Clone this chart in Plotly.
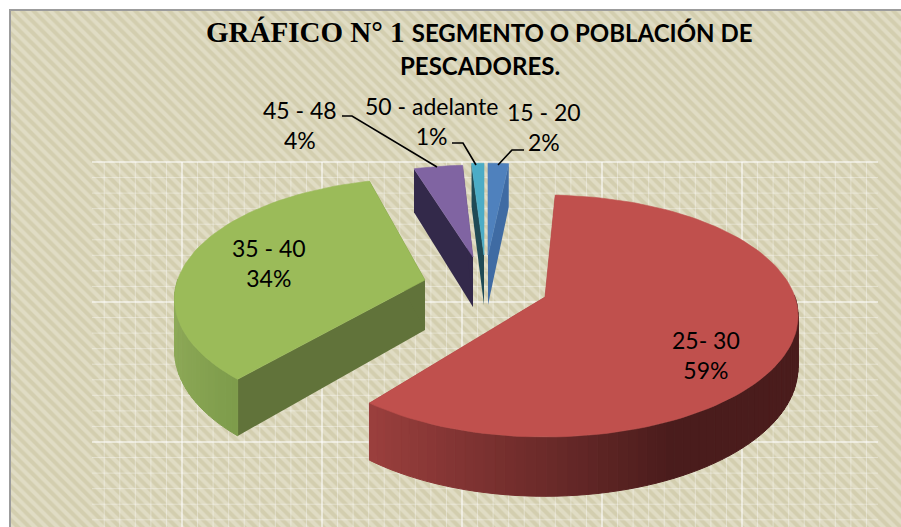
import math
import plotly.graph_objects as go

# --- data ---
categories = ["15 - 20", "25- 30", "35 - 40", "45 - 48", "50 - adelante"]
values = [2, 59, 34, 4, 1]
percent_labels = ["2%", "59%", "34%", "4%", "1%"]
title_line1_a = "GRÁFICO N° 1"
title_line1_b = "SEGMENTO O POBLACIÓN DE"
title_line2 = "PESCADORES."

# --- styles / layout of the 3-D view (pixel space) ---
W, H = 901, 527
top_colors = ["#4F81BD", "#C0504D", "#9BBB59", "#8064A2", "#4BACC6"]
wall_colors = ["#3F6BA3", "#8E3A38", "#61733A", "#33294A", "#1F4A55"]
curve_light = [(63, 107, 163), (155, 63, 61), (142, 170, 88), (80, 60, 110), (40, 100, 115)]
curve_dark = [(63, 107, 163), (74, 28, 28), (125, 155, 74), (50, 40, 70), (30, 74, 85)]
centers = [(488, 255), (545, 297), (425, 280), (473, 257), (484, 255)]
scales = [0.9, 1.0, 1.0, 0.9, 0.9]
scales_x = [0.9, 0.98, 0.97, 0.9, 0.9]
# small view corrections of each slice's edges (perspective of the 3-D view), degrees
edge_shift_start = [0, -4.5, 2.4, 0.8, 0]
edge_shift_end = [-1.2, -1.6, 3.0, 0.6, 0]
RX, RY, PERSP, DEPTH = 255, 118, 0.157, 50
draw_order = [3, 4, 0, 2, 1]


def project(cx, cy, u, v, z, sx, sy):
    s = 1 / (1 - PERSP * v)
    return cx + RX * u * s * sx, cy + RY * v * s * sy + z * DEPTH * s


def rim(a0, a1):
    n = max(2, int((a1 - a0) / 2) + 1)
    return [a0 + (a1 - a0) * i / (n - 1) for i in range(n)]


def poly(xs, ys, color, width=1):
    return go.Scatter(x=xs + xs[:1], y=ys + ys[:1], mode="lines", fill="toself",
                      fillcolor=color, line=dict(color=color, width=width),
                      hoverinfo="skip", showlegend=False)


fig = go.Figure()

# background panel
fig.add_trace(go.Bar(
    x=[(10 + W + 20) / 2], width=[W + 10], y=[H + 10], base=[10],
    marker=dict(color="#DCD8BD", line=dict(color="#9C9C9C", width=2),
                pattern=dict(shape="\\", size=8, solidity=0.5,
                             fgcolor="#C6C09A", bgcolor="#E0DCC4")),
    hoverinfo="skip", showlegend=False))

# white lattice
MAJ_X, MAJ_Y, STEP = 182, 162, 140
gx0, gx1, gy0, gy1 = 92, 878, 162, 527
for major, col, wid in ((False, "rgba(255,255,255,0.38)", 1), (True, "rgba(255,255,255,0.85)", 1)):
    xs, ys = [], []
    n = 1 if major else 9
    d = STEP / n
    k = -1 * n
    while MAJ_X + k * d <= gx1:
        px = MAJ_X + k * d
        if px >= gx0:
            xs += [px, px, None]
            ys += [gy0, gy1, None]
        k += 1
    k = 0
    while MAJ_Y + k * d <= gy1:
        py = MAJ_Y + k * d
        xs += [gx0, gx1, None]
        ys += [py, py, None]
        k += 1
    fig.add_trace(go.Scatter(x=xs, y=ys, mode="lines", line=dict(color=col, width=wid),
                             hoverinfo="skip", showlegend=False))

# slices, computed from the values
total = sum(values)
starts, acc = [], 0
for val in values:
    starts.append(acc / total * 360)
    acc += val

for i in draw_order:
    cx, cy = centers[i]
    sy, sx = scales[i], scales_x[i]
    a0 = starts[i] + edge_shift_start[i]
    a1 = starts[i] + values[i] / total * 360 + edge_shift_end[i]
    angles = rim(a0, a1)
    pts = [(math.sin(math.radians(a)), -math.cos(math.radians(a))) for a in angles]

    # radial walls (no outline, so hidden ones cannot peek past the top face)
    for (u, v) in (pts[0], pts[-1]):
        p1 = project(cx, cy, 0, 0, 0, sx, sy)
        p2 = project(cx, cy, u, v, 0, sx, sy)
        p3 = project(cx, cy, u, v, 1, sx, sy)
        p4 = project(cx, cy, 0, 0, 1, sx, sy)
        fig.add_trace(poly([p1[0], p2[0], p3[0], p4[0]], [p1[1], p2[1], p3[1], p4[1]],
                           wall_colors[i], width=0))

    # outer wall, shaded segment by segment
    front = [(u, v) for (u, v) in pts if v >= -0.02]
    if front:
        umin = min(u for u, _ in front)
        umax = max(u for u, _ in front)
        span = max(1e-6, min(umax - umin, 1.05))
    for j in range(len(pts) - 1):
        (u0, v0), (u1, v1) = pts[j], pts[j + 1]
        if (v0 + v1) / 2 < -0.02:
            continue
        t = min(1, max(0, ((u0 + u1) / 2 - umin) / span))
        rgb = [round(curve_light[i][c] + (curve_dark[i][c] - curve_light[i][c]) * t) for c in range(3)]
        color = "rgb(%d,%d,%d)" % tuple(rgb)
        p1 = project(cx, cy, u0, v0, 0, sx, sy)
        p2 = project(cx, cy, u1, v1, 0, sx, sy)
        p3 = project(cx, cy, u1, v1, 1, sx, sy)
        p4 = project(cx, cy, u0, v0, 1, sx, sy)
        fig.add_trace(poly([p1[0], p2[0], p3[0], p4[0]], [p1[1], p2[1], p3[1], p4[1]], color))

    # top face
    apex = project(cx, cy, 0, 0, 0, sx, sy)
    xs, ys = [apex[0]], [apex[1]]
    for (u, v) in pts:
        p = project(cx, cy, u, v, 0, sx, sy)
        xs.append(p[0])
        ys.append(p[1])
    fig.add_trace(go.Scatter(x=xs + xs[:1], y=ys + ys[:1], mode="lines", fill="toself",
                             fillcolor=top_colors[i], line=dict(color=top_colors[i], width=0.6),
                             name=categories[i], text=f"{categories[i]}: {percent_labels[i]}",
                             hoverinfo="text", showlegend=False))

# leader lines
leader_x = [[342, 352, 437], [452, 463, 476], [524, 512, 498]]
leader_y = [[116, 116, 167], [143, 143, 165], [150, 150, 165]]
for lx, ly in zip(leader_x, leader_y):
    fig.add_trace(go.Scatter(x=lx, y=ly, mode="lines", line=dict(color="black", width=1.6),
                             hoverinfo="skip", showlegend=False))

# labels
label_pos = [(544, 127), (706, 355), (269, 263), (300, 125), (431, 121)]
annotations = []
for cat, pct, (lx, ly) in zip(categories, percent_labels, label_pos):
    annotations.append(dict(x=lx, y=ly, text=f"{cat}<br>{pct}", showarrow=False, xanchor="center",
                            yanchor="middle", align="center",
                            font=dict(family="Lato", size=23, color="black")))
annotations.append(dict(x=479, y=32, showarrow=False, xanchor="center", yanchor="middle",
                        text=f"<span style='font-family:Liberation Serif'>{title_line1_a}</span> "
                             f"<span style='font-family:Lato;font-size:24px'>{title_line1_b}</span>",
                        font=dict(family="Liberation Serif", size=29, color="black", weight="bold")))
annotations.append(dict(x=480, y=65, showarrow=False, xanchor="center", yanchor="middle",
                        text=title_line2,
                        font=dict(family="Lato", size=24, color="black", weight="bold")))

fig.update_layout(
    width=W, height=H, margin=dict(l=0, r=0, t=0, b=0),
    paper_bgcolor="white", plot_bgcolor="white", showlegend=False,
    annotations=annotations, bargap=0,
    xaxis=dict(range=[0, W], visible=False, fixedrange=True),
    yaxis=dict(range=[H, 0], visible=False, fixedrange=True),
)
fig.write_html("out.html", config={"displayModeBar": False},
               post_script="document.body.style.margin='0';document.body.style.overflow='hidden';")
